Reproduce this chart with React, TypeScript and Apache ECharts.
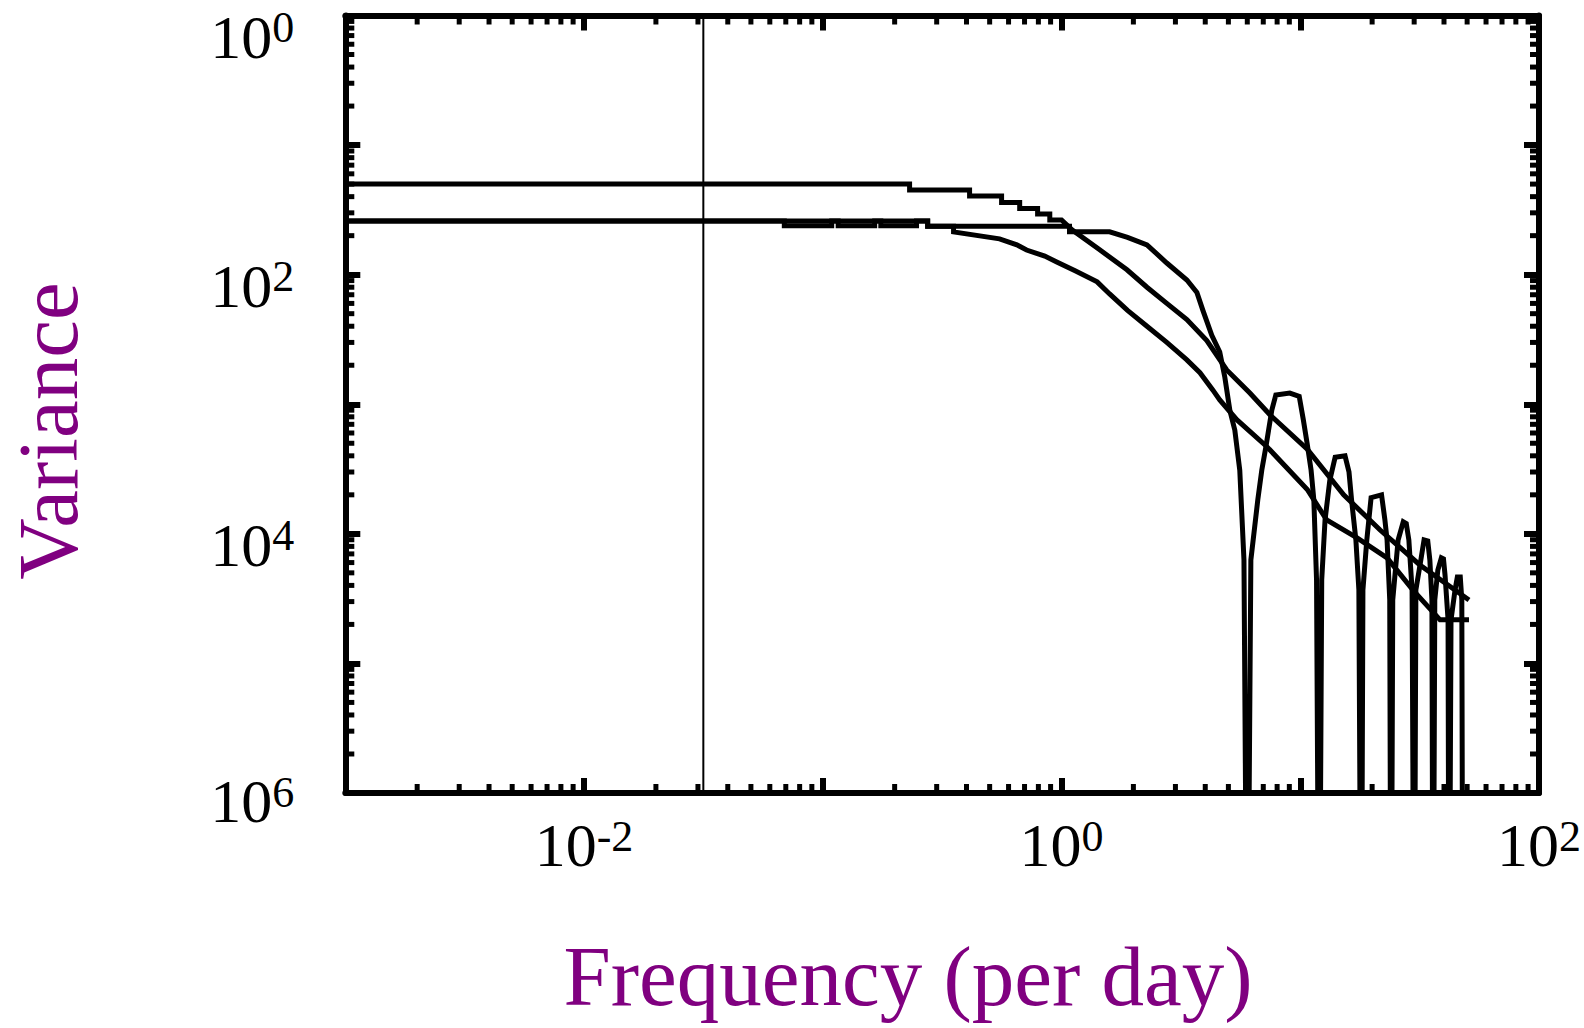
import React, { useEffect, useRef } from "react";
import * as echarts from "echarts";

// Axis ranges (log scales)
const X_MIN = 1e-3;
const X_MAX = 1e2;
const Y_MIN = 1e-6;
const Y_MAX = 1;

// Vertical reference line frequency (per day)
const markerFreq = 0.0316;

// Series A: highest low-frequency variance
const freqA = [0.001, 0.231, 0.231, 0.412, 0.412, 0.561, 0.561, 0.668, 0.668, 0.794, 0.794, 0.893, 0.893, 1.0, 1.11, 1.45, 1.88, 2.28, 2.76, 3.35, 4.06, 4.92, 6.15, 7.46, 10.7, 15.2, 21.6, 31.7, 50.9];
const varA = [0.05, 0.05, 0.045, 0.045, 0.0405, 0.0405, 0.0361, 0.0361, 0.0324, 0.0324, 0.0294, 0.0294, 0.0264, 0.0264, 0.0221, 0.0155, 0.0109, 0.008, 0.006, 0.0045, 0.0031, 0.00184, 0.00122, 0.00083, 0.00045, 0.0002, 0.000107, 0.0000575, 0.0000309];

// Series B: filtered spectrum with sharp knee and nulls every 6 cycles/day
const freqB = [0.001, 0.275, 0.275, 1.08, 1.08, 1.59, 1.89, 2.28, 2.76, 3.35, 3.69, 3.91, 4.26, 4.6, 4.83, 5.07, 5.32, 5.58, 5.81, 6.0, 6.21, 6.64, 6.9, 7.18, 7.6, 7.9, 9.04, 9.9, 10.3, 10.7, 11.1, 11.4, 11.7, 12.0, 12.3, 12.7, 13.3, 14.0, 15.4, 16.0, 16.4, 17.1, 17.6, 18.0, 18.3, 19.0, 19.8, 21.9, 22.6, 23.1, 23.7, 24.0, 24.4, 25.7, 27.0, 27.8, 28.5, 29.4, 30.0, 30.5, 32.0, 33.0, 34.2, 34.9, 35.6, 36.0, 36.6, 37.7, 39.0, 39.8, 40.4, 41.6, 42.0, 42.8, 44.5, 45.5, 46.8, 47.5, 48.0];
const varB = [0.026, 0.026, 0.0236, 0.0236, 0.0214, 0.0214, 0.0194, 0.017, 0.0123, 0.0091, 0.0073, 0.0053, 0.0034, 0.00253, 0.00162, 0.0009, 0.00063, 0.00031, 0.0000629, 1e-8, 0.0000629, 0.000183, 0.00031, 0.00047, 0.0009, 0.00118, 0.00122, 0.00115, 0.00076, 0.00049, 0.00031, 0.000183, 0.0000441, 1e-8, 0.0000441, 0.000128, 0.00026, 0.00039, 0.0004, 0.0003, 0.000183, 0.0000897, 0.0000369, 1e-8, 0.0000369, 0.0000897, 0.00019, 0.0002, 0.00013, 0.0000897, 0.0000309, 1e-8, 0.0000309, 0.0000897, 0.000124, 0.00012, 0.0000897, 0.0000369, 1e-8, 0.0000369, 0.0000629, 0.0000897, 0.000088, 0.0000629, 0.0000309, 1e-8, 0.0000309, 0.0000526, 0.0000652, 0.000064, 0.0000482, 0.0000217, 1e-8, 0.0000217, 0.0000369, 0.0000465, 0.0000465, 0.0000309, 1e-8];

// Series C: lowest curve, earliest roll-off
const freqC = [0.001, 0.069, 0.069, 0.109, 0.109, 0.116, 0.116, 0.165, 0.165, 0.175, 0.175, 0.247, 0.247, 0.275, 0.275, 0.353, 0.353, 0.55, 0.65, 0.714, 0.851, 0.955, 1.14, 1.41, 1.59, 1.89, 2.28, 2.76, 3.35, 3.8, 4.3, 4.6, 5.42, 7.25, 10.7, 12.9, 17.3, 23.1, 29.6, 38.5, 50.9];
const varC = [0.026, 0.026, 0.0238, 0.0238, 0.026, 0.026, 0.0238, 0.0238, 0.026, 0.026, 0.0238, 0.0238, 0.026, 0.026, 0.0236, 0.0236, 0.0214, 0.0189, 0.017, 0.0155, 0.0139, 0.0125, 0.0107, 0.0088, 0.0071, 0.0053, 0.004, 0.003, 0.0022, 0.00175, 0.00129, 0.00108, 0.00076, 0.00047, 0.00022, 0.000128, 0.000093, 0.0000652, 0.0000369, 0.0000217, 0.0000217];

const xTitle = "Frequency (per day)";
const yTitle = "Variance";

const FONT = "'Liberation Serif', 'Times New Roman', Times, serif";
const PURPLE = "#800080";

const pairs = (xs: number[], ys: number[]) => xs.map((x, i) => [x, ys[i]]);

// minor tick positions (2..9 within each decade)
const minorTicks = (lo: number, hi: number) => {
  const out: number[] = [];
  for (let d = lo; d < hi; d++) {
    for (let k = 2; k <= 9; k++) out.push(k * Math.pow(10, d));
  }
  return out;
};

export default function App() {
  const ref = useRef<HTMLDivElement>(null);

  useEffect(() => {
    if (!ref.current) return;
    const chart = echarts.init(ref.current, undefined, { renderer: "svg" });

    const lineStyleAxis = { color: "#000", width: 6 };
    const majorTick = { show: true, inside: true, length: 15, lineStyle: { color: "#000", width: 6 } };

    const BASE = 62;
    const SUP = 44;
    const xRich = {
      b: { fontSize: BASE, lineHeight: BASE, fontFamily: FONT, color: "#000" },
      s: { fontSize: SUP, lineHeight: SUP, verticalAlign: "top", fontFamily: FONT, color: "#000" },
    };
    // downward shift of each y label relative to its tick
    const yShift: Record<number, number> = { 0: 21, 2: 11, 4: 11, 6: 8 };
    const yRich: Record<string, any> = {};
    Object.keys(yShift).forEach((k) => {
      const d = yShift[Number(k)];
      yRich["b" + k] = { fontSize: BASE, lineHeight: BASE, fontFamily: FONT, color: "#000", padding: [2 * d, 0, 0, 0] };
      yRich["s" + k] = { fontSize: SUP, lineHeight: SUP, verticalAlign: "top", fontFamily: FONT, color: "#000", padding: [d, 0, 0, 0] };
    });

    const tickData: number[][] = [];
    minorTicks(-3, 2).forEach((v) => tickData.push([v, Y_MIN, 0]));
    minorTicks(-6, 0).forEach((v) => tickData.push([X_MIN, v, 1]));
    const L = 9;

    const seriesLine = (name: string, data: number[][]) => ({
      type: "line",
      name,
      data,
      symbol: "none",
      showSymbol: false,
      clip: true,
      lineStyle: { color: "#000", width: 5, cap: "butt", join: "miter" },
      z: 3,
    });

    chart.setOption({
      animation: false,
      backgroundColor: "#fff",
      grid: { left: 345.3, right: 45, top: 15.5, bottom: 235, containLabel: false, outerBoundsMode: "none" },
      xAxis: [
        {
          type: "log",
          logBase: 10,
          min: X_MIN,
          max: X_MAX,
          position: "bottom",
          axisLine: { show: true, lineStyle: lineStyleAxis },
          axisTick: majorTick,
          splitLine: { show: false },
          axisLabel: {
            show: true,
            margin: 21,
            formatter: (v: number) => {
              const e = Math.round(Math.log10(v));
              return e % 2 === 0 ? `{b|10}{s|${e}}` : "";
            },
            rich: xRich,
          },
        },
        {
          type: "log",
          logBase: 10,
          min: X_MIN,
          max: X_MAX,
          position: "top",
          axisLine: { show: true, lineStyle: lineStyleAxis },
          axisTick: majorTick,
          splitLine: { show: false },
          axisLabel: { show: false },
        },
      ],
      yAxis: [
        {
          type: "log",
          logBase: 10,
          min: Y_MIN,
          max: Y_MAX,
          position: "left",
          axisLine: { show: true, lineStyle: lineStyleAxis },
          axisTick: majorTick,
          splitLine: { show: false },
          axisLabel: {
            show: true,
            margin: 51,
            formatter: (v: number) => {
              const e = Math.round(Math.log10(v));
              const k = Math.abs(e);
              return e % 2 === 0 ? `{b${k}|10}{s${k}|${k}}` : "";
            },
            rich: yRich,
          },
        },
        {
          type: "log",
          logBase: 10,
          min: Y_MIN,
          max: Y_MAX,
          position: "right",
          axisLine: { show: true, lineStyle: lineStyleAxis },
          axisTick: majorTick,
          splitLine: { show: false },
          axisLabel: { show: false },
        },
      ],
      graphic: [
        {
          type: "text",
          x: 908,
          y: 976,
          style: { text: xTitle, fill: PURPLE, fontSize: 85, fontFamily: FONT, align: "center", verticalAlign: "middle" },
        },
        {
          type: "text",
          x: 48,
          y: 431,
          rotation: Math.PI / 2,
          style: { text: yTitle, fill: PURPLE, fontSize: 85, fontFamily: FONT, align: "center", verticalAlign: "middle" },
        },
      ],
      series: [
        seriesLine("A", pairs(freqA, varA)),
        seriesLine("B", pairs(freqB, varB)),
        seriesLine("C", pairs(freqC, varC)),
        {
          type: "line",
          name: "marker",
          data: [
            [markerFreq, Y_MIN],
            [markerFreq, Y_MAX],
          ],
          symbol: "none",
          lineStyle: { color: "#000", width: 2 },
          z: 2,
        },
        {
          type: "custom",
          name: "minorTicks",
          data: tickData,
          silent: true,
          z: 4,
          renderItem: (params: any, api: any) => {
            const kind = api.value(2);
            const st = { stroke: "#000", lineWidth: 5 };
            if (kind === 0) {
              const v = api.value(0);
              const pb = api.coord([v, Y_MIN]);
              const pt = api.coord([v, Y_MAX]);
              return {
                type: "group",
                children: [
                  { type: "line", shape: { x1: pb[0], y1: pb[1], x2: pb[0], y2: pb[1] - L }, style: st },
                  { type: "line", shape: { x1: pt[0], y1: pt[1], x2: pt[0], y2: pt[1] + L }, style: st },
                ],
              };
            }
            const v = api.value(1);
            const pl = api.coord([X_MIN, v]);
            const pr = api.coord([X_MAX, v]);
            return {
              type: "group",
              children: [
                { type: "line", shape: { x1: pl[0], y1: pl[1], x2: pl[0] + L, y2: pl[1] }, style: st },
                { type: "line", shape: { x1: pr[0], y1: pr[1], x2: pr[0] - L, y2: pr[1] }, style: st },
              ],
            };
          },
        },
      ],
    });

    return () => chart.dispose();
  }, []);

  return (
    <div
      ref={ref}
      style={{ position: "fixed", left: 0, top: 0, width: 1584, height: 1028, background: "#fff" }}
    />
  );
}
